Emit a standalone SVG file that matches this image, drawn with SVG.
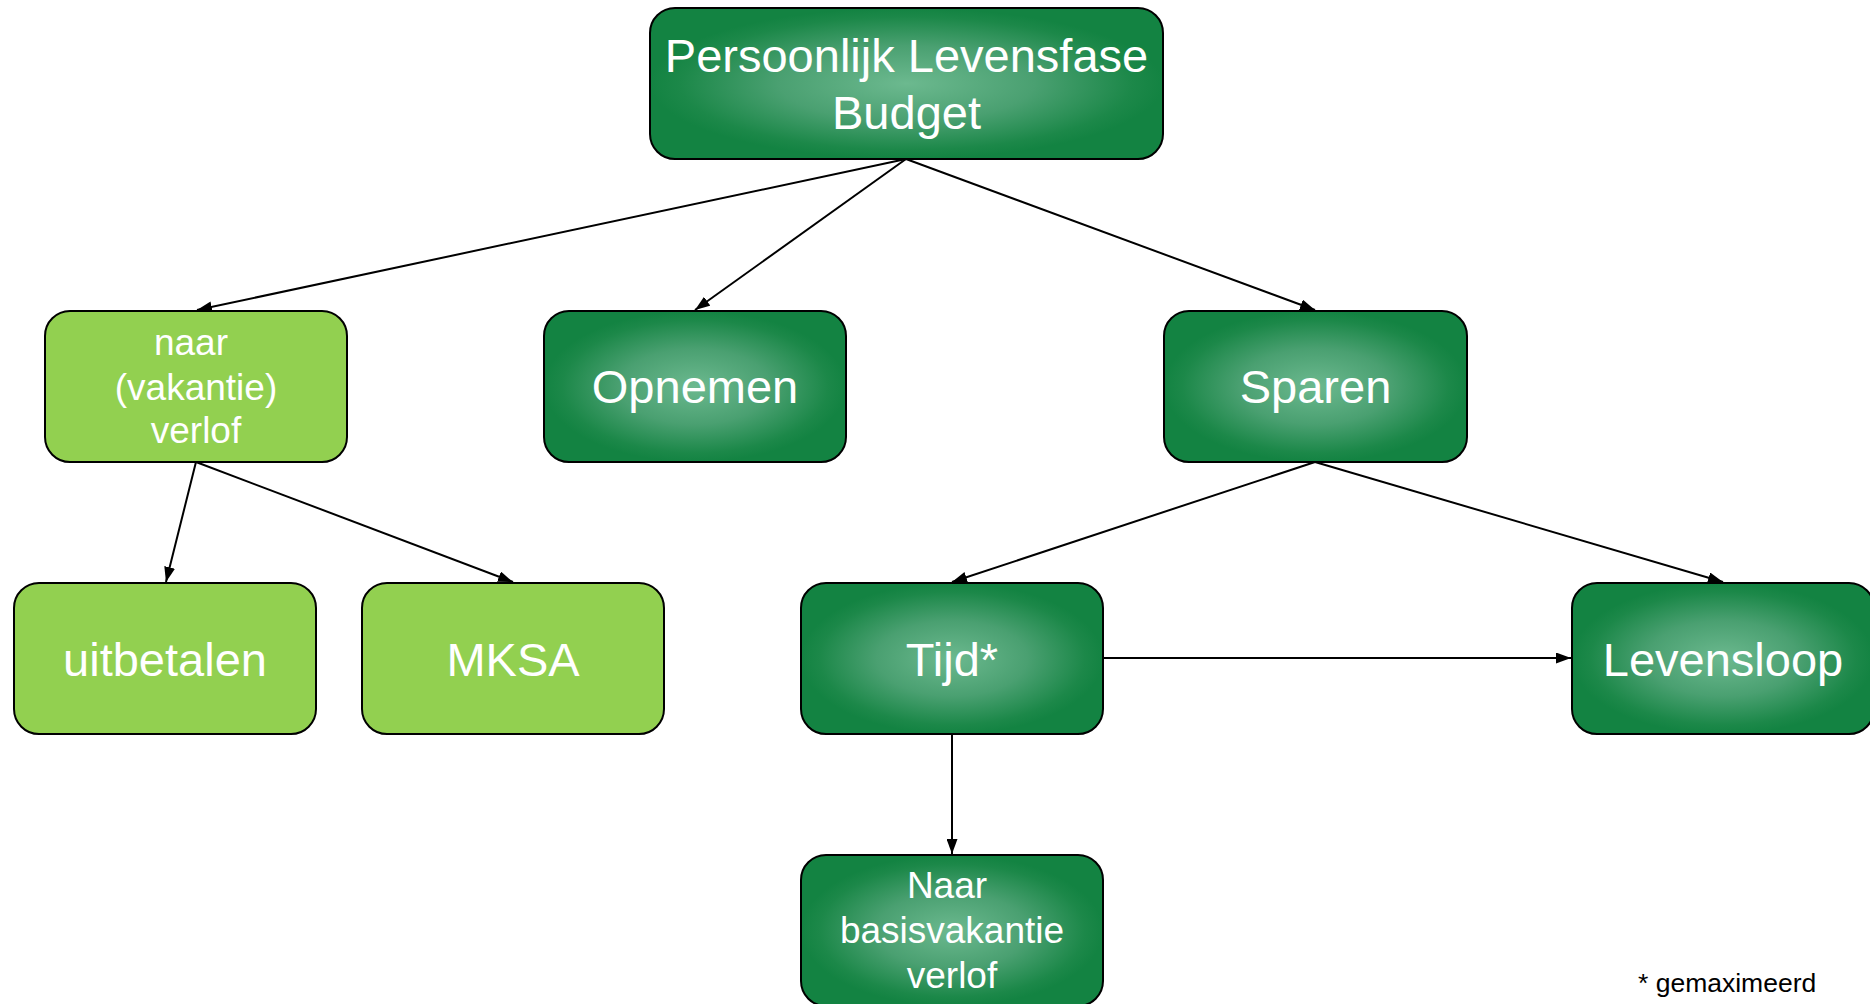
<svg xmlns="http://www.w3.org/2000/svg" width="1870" height="1004" viewBox="0 0 1870 1004">
<defs>
<radialGradient id="dg" cx="0.5" cy="0.5" r="0.5">
<stop offset="0" stop-color="#6cb98f"/>
<stop offset="0.5" stop-color="#4aa071"/>
<stop offset="0.88" stop-color="#1c8849"/>
<stop offset="1" stop-color="#138342"/>
</radialGradient>
<marker id="ah" viewBox="0 0 15 11" refX="15" refY="5.5" markerWidth="15" markerHeight="11" markerUnits="userSpaceOnUse" orient="auto">
<path d="M0,0 L15,5.5 L0,11 Z" fill="#000"/>
</marker>
<style>
.dark{fill:url(#dg);stroke:#000;stroke-width:2}
.light{fill:#92d050;stroke:#000;stroke-width:2}
.t{font-family:"Liberation Sans",Arial,Helvetica,sans-serif;fill:#fff;text-anchor:middle}
.big{font-size:47px}
.mid{font-size:37px}
.conn line{stroke:#000;stroke-width:2;marker-end:url(#ah)}
.note{font-family:"Liberation Sans",Arial,Helvetica,sans-serif;font-size:26.5px;fill:#000}
</style>
</defs>
<rect width="1870" height="1004" fill="#fff"/>
<g id="connectors" class="conn">
<line x1="906" y1="159" x2="197" y2="310"/>
<line x1="906" y1="159" x2="695" y2="310"/>
<line x1="906" y1="159" x2="1315" y2="310"/>
<line x1="196" y1="462" x2="166" y2="582"/>
<line x1="196" y1="462" x2="513" y2="582"/>
<line x1="1315" y1="462" x2="952" y2="582"/>
<line x1="1315" y1="462" x2="1723" y2="582"/>
<line x1="1103" y1="658" x2="1571" y2="658"/>
<line x1="952" y1="734" x2="952" y2="854"/>
</g>
<g id="n-root">
<rect class="dark" x="650" y="8" width="513" height="151" rx="25"/>
<text class="t big" x="906.5" y="72">Persoonlijk Levensfase</text>
<text class="t big" x="906.5" y="129">Budget</text>
</g>
<g id="n-verlof">
<rect class="light" x="45" y="311" width="302" height="151" rx="25"/>
<text class="t mid" x="191" y="355">naar</text>
<text class="t mid" x="196" y="400">(vakantie)</text>
<text class="t mid" x="196" y="443">verlof</text>
</g>
<g id="n-opnemen">
<rect class="dark" x="544" y="311" width="302" height="151" rx="25"/>
<text class="t big" x="695" y="403">Opnemen</text>
</g>
<g id="n-sparen">
<rect class="dark" x="1164" y="311" width="303" height="151" rx="25"/>
<text class="t big" x="1315.5" y="403">Sparen</text>
</g>
<g id="n-uitbetalen">
<rect class="light" x="14" y="583" width="302" height="151" rx="25"/>
<text class="t big" x="165" y="676">uitbetalen</text>
</g>
<g id="n-mksa">
<rect class="light" x="362" y="583" width="302" height="151" rx="25"/>
<text class="t big" x="513" y="676">MKSA</text>
</g>
<g id="n-tijd">
<rect class="dark" x="801" y="583" width="302" height="151" rx="25"/>
<text class="t big" x="952" y="676">Tijd*</text>
</g>
<g id="n-levensloop">
<rect class="dark" x="1572" y="583" width="302" height="151" rx="25"/>
<text class="t big" x="1723" y="676">Levensloop</text>
</g>
<g id="n-basis">
<rect class="dark" x="801" y="855" width="302" height="151" rx="25"/>
<text class="t mid" x="947" y="898">Naar</text>
<text class="t mid" x="952" y="943">basisvakantie</text>
<text class="t mid" x="952" y="988">verlof</text>
</g>
<text class="note" x="1638" y="992">* gemaximeerd</text>
</svg>
